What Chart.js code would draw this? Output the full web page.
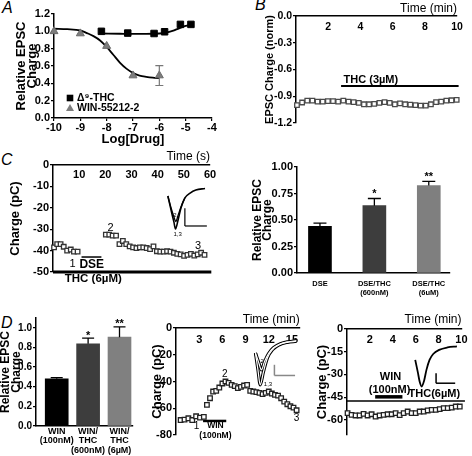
<!DOCTYPE html>
<html><head><meta charset="utf-8">
<script src="https://cdn.jsdelivr.net/npm/chart.js@4.4.1/dist/chart.umd.min.js"></script>
<style>
html,body{margin:0;padding:0;background:#fff;}
body{width:472px;height:456px;position:relative;overflow:hidden;font-family:'Liberation Sans',Arial,sans-serif;}
canvas{position:absolute;}
.lbl{position:absolute;font-style:italic;font-size:16px;line-height:16px;color:#000;}
</style></head><body>
<div class="lbl" style="left:2px;top:0px">A</div>
<div class="lbl" style="left:255px;top:-3px">B</div>
<div class="lbl" style="left:1px;top:152px">C</div>
<div class="lbl" style="left:1px;top:315px">D</div>
<script>
// ---------------- DATA ----------------
// Panel A: dose-response
const logDoseTHC = [-8.2,-7.2,-6.2,-5.8,-5.2,-4.8];
const relChargeTHC = [1.00,0.98,0.975,0.995,1.08,1.08];
const logDoseWIN = [-10,-9,-8,-7,-6];
const relChargeWIN = [1.00,0.975,0.83,0.49,0.49];
const errWIN = [0,0,0,0,0.115];
const fitTHCx = [-8.2,-7.5,-7,-6.5,-6,-5.75,-5.5,-5.25,-5,-4.8];
const fitTHCy = [0.975,0.972,0.97,0.97,0.975,0.985,1.005,1.035,1.062,1.078];
const fitWINx = [-10,-9.5,-9,-8.75,-8.5,-8.25,-8,-7.75,-7.5,-7.25,-7,-6.75,-6.5,-6.25,-6];
const fitWINy = [1.03,1.025,1.01,0.98,0.945,0.895,0.82,0.73,0.64,0.57,0.52,0.49,0.475,0.465,0.46];
const legendLabels = ['\u0394\u2079-THC','WIN-55212-2'];
const ticksAx = [-10,-9,-8,-7,-6,-5,-4];
const ticksAy = [0,0.2,0.4,0.6,0.8,1.0,1.2];

// Panel B: time course, THC 3uM
const timeB = [0.06,0.38,0.7,1.02,1.34,1.66,1.98,2.3,2.62,2.94,3.26,3.58,3.9,4.22,4.54,4.86,5.18,5.5,5.82,6.14,6.46,6.78,7.1,7.42,7.74,8.06,8.38,8.7,9.02,9.34,9.66,9.98];
const chargeB = [-1.00,-0.97,-0.95,-0.95,-0.96,-0.96,-0.955,-0.955,-0.96,-0.95,-0.96,-0.965,-0.975,-0.99,-0.99,-0.985,-0.975,-0.965,-0.975,-0.99,-0.98,-0.99,-0.995,-1.0,-1.005,-1.005,-0.99,-0.965,-0.96,-0.95,-0.945,-0.94];
const ticksBx = [2,4,6,8,10];
const ticksBy = [0,-0.3,-0.6,-0.9,-1.2];
const thcSpanB = [2.8,10.1];

// Panel C left: DSE time course
const timeC = [0.4,1.6,2.9,4.1,5.4,6.8,8.0,9.4,20.2,21.5,22.8,24.1,25.4,26.7,28.0,29.3,30.6,31.9,33.2,34.5,35.8,37.1,38.4,39.7,41.0,42.3,43.6,44.9,46.2,47.5,48.8,50.1,51.4,52.7,54.0,55.3,56.6,57.9];
const chargeC = [-38.5,-37,-37,-38.2,-40,-39.5,-40.5,-40.5,-32.5,-32.5,-33,-33,-37,-35.5,-37,-38,-38.5,-38.8,-38.5,-38.5,-38.8,-39.3,-38,-40.3,-40.5,-40.5,-40.3,-40.5,-41,-41.5,-41.8,-42.5,-42,-41.5,-42.3,-41.8,-41,-42];
const ticksCx = [10,20,30,40,50,60];
const ticksCy = [0,-10,-20,-30,-40,-50];
const insetCdeepT = [43.9,45.1,46.2,46.8,47.8,48.9,50.4,52.4,54.6,58.1];
const insetCdeepQ = [-14.5,-21,-26.6,-29.9,-25.7,-20.1,-15.4,-13.1,-11.7,-11];
const insetCshalT = [43.9,45.1,46.2,46.9,47.9,48.9,50.4];
const insetCshalQ = [-14.5,-20,-24.2,-26.4,-23.2,-19.6,-15.4];

// Panel C right: DSE bars
const catsCR = [['DSE'],['DSE/THC','(600nM)'],['DSE/THC','(6uM)']];
const relChargeCR = [0.44,0.635,0.825];
const errCR = [0.03,0.068,0.04];
const starsCR = ['','*','**'];
const ticksCRy = [0,0.25,0.5,0.75,1.0];

// Panel D left: WIN bars
const catsDL = [['WIN','(100nM)'],['WIN/','THC','(600nM)'],['WIN/','THC','(6\u00b5M)']];
const relChargeDL = [0.48,0.838,0.905];
const errDL = [0.012,0.058,0.105];
const starsDL = ['','*','**'];
const ticksDLy = [0,0.2,0.4,0.6,0.8,1.0];

// Panel D middle: WIN time course
const timeDM = [0.6,1.1,1.6,2.1,2.6,3.1,3.6,4.0,4.4,4.8,5.2,5.6,6.0,6.4,6.8,7.2,7.6,8.0,8.4,8.8,9.2,9.6,10.0,10.4,10.8,11.2,11.6,12.0,12.4,12.8,13.2,13.6,14.0,14.4,14.8,15.2,15.6];
const chargeDM = [-68.8,-68.5,-67.5,-68.8,-66,-67,-66.5,-57.5,-52.5,-47.5,-47,-44.5,-41.5,-40,-41,-42.5,-43.5,-45,-44,-43,-42.5,-47,-47.5,-48,-48.5,-49.5,-48.5,-47.5,-49,-50,-50.5,-52.5,-55,-57,-58.5,-59.5,-61.5];
const ticksDMx = [3,6,9,12,15];
const ticksDMy = [0,-20,-40,-60,-80];
const insetDMdeepT = [10.28,10.6,10.89,11.31,11.83,12.47,13.37,14.4,15.55];
const insetDMdeepQ = [-18.75,-31.3,-42.5,-32.8,-22.3,-16.3,-12.5,-10.7,-9.9];
const insetDMshalT = [10.28,10.67,11.05,11.44,11.95,12.6,13.5,14.5,15.55];
const insetDMshalQ = [-18.75,-25.3,-31.3,-25.3,-19.3,-14.8,-11.8,-10.3,-9.5];

// Panel D right: WIN then THC
const timeDR = [0.05,0.4,0.75,1.1,1.45,1.8,2.15,2.5,2.85,3.2,3.55,3.9,4.25,4.6,4.95,5.3,5.65,6.0,6.35,6.7,7.05,7.4,7.75,8.1,8.45,8.8,9.15,9.5,9.85];
const chargeDR = [-55.6,-56.7,-57.1,-57.1,-56,-57.1,-56.3,-57.8,-57.1,-56.7,-56.3,-56.3,-55.6,-56.9,-55.6,-54.5,-55.6,-55.6,-54.5,-54.5,-53.8,-53.4,-53.4,-52.9,-52.3,-52.3,-51.9,-51.2,-51.2];
const ticksDRx = [2,4,6,8,10];
const ticksDRy = [0,-15,-30,-45,-60];
const insetDRt = [5.96,6.18,6.35,6.52,6.73,6.94,7.21,7.53,8.05,8.78,9.6];
const insetDRq = [-20.4,-28.3,-34.9,-38,-34.3,-27,-20.4,-16.5,-13.8,-12.2,-11.5];

// ---------------- HELPERS ----------------
const FONT = "'Liberation Sans Narrow','Liberation Sans',Arial,sans-serif";
const f = (size, weight) => `${weight||'bold'} ${size}px ${FONT}`;
const pts = (xs, ys) => xs.map((x,i)=>({x, y:ys[i]}));
Chart.defaults.font.family = FONT;

function yAx(o){
  return {
    type:'linear', position:'left', min:o.min, max:o.max,
    afterBuildTicks: s => { s.ticks = o.ticks.map(v=>({value:v})); },
    grid:{display:true, drawOnChartArea:false, drawTicks:true, tickLength:(o.tl ?? 3), color:'#000', lineWidth:1.2},
    border:{display:true, color:'#000', width:1.5},
    ticks:{color:'#000', autoSkip:false, padding:(o.pad ?? 1), font:{family:FONT, size:o.fs, weight:'bold'}, callback:o.fmt || (v=>String(v))},
    title:{display:true, text:o.title, color:'#000', font:{family:FONT, size:o.tfs, weight:'bold', lineHeight:(o.tlh ?? 1.2)}, padding:{top:o.tpad, bottom:0}}
  };
}
function xAx(o){
  const tl = o.tl || 0;
  return {
    type:'linear', position:o.pos, min:o.min, max:o.max, offset:false,
    afterBuildTicks: s => { s.ticks = o.ticks.map(v=>({value:v})); },
    grid:{display:tl>0, offset:false, drawOnChartArea:false, drawTicks:tl>0, tickLength:tl, color:'#000', lineWidth:1.2},
    border:{display:true, color:'#000', width:1.5},
    ticks:{color:'#000', autoSkip:false, maxRotation:0, minRotation:0, mirror:!!o.mirror, padding:o.pad, font:{family:FONT, size:o.fs, weight:'bold', lineHeight:(o.lh ?? 1.2)}, callback:o.fmt || (v=>String(v))},
    title:{display:!!o.title, text:o.title||'', align:o.talign||'center', color:'#000', font:{family:FONT, size:o.tfs||12, weight:o.tw||'bold'}, padding:{top:o.tpt||0, bottom:o.tpb||0}}
  };
}
function annot(cfg){
  return {
    id:'annot',
    afterDatasetsDraw(chart){
      const ctx = chart.ctx, xs = chart.scales.x, ys = chart.scales.y;
      const X = v => xs.getPixelForValue(v), Y = v => ys.getPixelForValue(v);
      ctx.save();
      (cfg.segments||[]).forEach(s=>{
        ctx.beginPath(); ctx.strokeStyle = s.color||'#000'; ctx.lineWidth = s.w||1.5; ctx.lineCap='butt';
        ctx.moveTo(X(s.x[0]),Y(s.y[0])); ctx.lineTo(X(s.x[1]),Y(s.y[1])); ctx.stroke();
      });
      (cfg.texts||[]).forEach(t=>{
        ctx.font = t.font || f(11); ctx.fillStyle = t.color||'#000';
        ctx.textAlign = t.align||'center'; ctx.textBaseline='middle';
        ctx.fillText(t.text, X(t.x), Y(t.y));
      });
      if (cfg.after) cfg.after(chart, ctx, X, Y);
      ctx.restore();
    }
  };
}
function build(box, area, xPos, type, datasets, xs, ys, plugins){
  const c = document.createElement('canvas');
  c.width = box.w; c.height = box.h;
  c.style.left = box.x+'px'; c.style.top = box.y+'px';
  c.style.width = box.w+'px'; c.style.height = box.h+'px';
  document.body.appendChild(c);
  const top = xPos === 'top';
  const padding = {left:0, top: top?0:area.t-box.y, right: box.x+box.w-area.r, bottom: top? box.y+box.h-area.b : 0};
  const yW = area.l - box.x, xH = top ? area.t-box.y : box.y+box.h-area.b;
  xs.afterFit = s => { s.height = xH; };
  ys.afterFit = s => { s.width = yW; };
  return new Chart(c, {
    type, data:{datasets},
    options:{responsive:false, animation:false, events:[], devicePixelRatio:1,
      layout:{padding},
      plugins:{legend:{display:false}, tooltip:{enabled:false}},
      scales:{x:xs, y:ys}},
    plugins
  });
}
function barsExtras(vals, errs, stars, cap, starDy){
  return (chart, ctx, X, Y) => {
    ctx.strokeStyle = '#000'; ctx.lineWidth = 1.3;
    vals.forEach((v,i)=>{
      const x = X(i+1), y0 = Y(v), y1 = Y(v+errs[i]);
      ctx.beginPath(); ctx.moveTo(x,y0); ctx.lineTo(x,y1);
      ctx.moveTo(x-cap/2,y1); ctx.lineTo(x+cap/2,y1); ctx.stroke();
      if (stars[i]) { ctx.font = f(11); ctx.fillStyle='#000'; ctx.textAlign='center'; ctx.textBaseline='alphabetic'; ctx.fillText(stars[i], x, y1+starDy); }
    });
  };
}
const sq = (color) => ({pointStyle:'rect', pointRadius:3.2, backgroundColor:'#fff', borderColor:color, borderWidth:1.3, showLine:false, clip:false, order:1});
const trace = (xs, ys, color, w, order) => ({data:pts(xs,ys), showLine:true, pointRadius:0, borderColor:color, borderWidth:w, cubicInterpolationMode:'monotone', order:order});

// ---------------- PANEL A ----------------
build({x:0,y:0,w:225,h:150},{l:54,t:14,r:212,b:118},'bottom','scatter',[
  {data:pts(logDoseTHC,relChargeTHC), pointStyle:'rect', pointRadius:4.6, backgroundColor:'#000', borderColor:'#000', borderWidth:1, showLine:false, clip:false, order:1},
  {data:pts(logDoseWIN,relChargeWIN), pointStyle:'triangle', pointRadius:4.6, backgroundColor:'#7d7d7d', borderColor:'#6a6a6a', borderWidth:1, showLine:false, clip:false, order:1},
  trace(fitTHCx, fitTHCy, '#000', 1.8, 2),
  trace(fitWINx, fitWINy, '#000', 1.8, 2)
],
 xAx({pos:'bottom', min:-10, max:-4, ticks:ticksAx, fs:11, tl:3, pad:0.5, title:'Log[Drug]', tfs:13, tpb:3.2}),
 yAx({min:0, max:1.2, ticks:ticksAy, fs:11, fmt:v=>v.toFixed(1), title:['Relative EPSC','Charge'], tfs:13, tlh:0.8, tpad:16.5}),
 [annot({after:(chart,ctx,X,Y)=>{
    ctx.strokeStyle='#777'; ctx.lineWidth=1.2;
    logDoseWIN.forEach((x,i)=>{ if(errWIN[i]>0){ const px=X(x), a=Y(relChargeWIN[i]+errWIN[i]), b=Y(relChargeWIN[i]-errWIN[i]);
      ctx.beginPath(); ctx.moveTo(px,a); ctx.lineTo(px,b); ctx.moveTo(px-4,a); ctx.lineTo(px+4,a); ctx.moveTo(px-4,b); ctx.lineTo(px+4,b); ctx.stroke(); }});
    const L = chart.chartArea.left + 16, T = chart.chartArea.top + 84;
    ctx.fillStyle='#000'; ctx.fillRect(L-3.3,T-3.3,6.6,6.6);
    ctx.fillStyle='#7d7d7d'; ctx.beginPath(); ctx.moveTo(L,T+10-4); ctx.lineTo(L+4,T+10+3); ctx.lineTo(L-4,T+10+3); ctx.closePath(); ctx.fill();
    ctx.fillStyle='#000'; ctx.font=f(10.5); ctx.textAlign='left'; ctx.textBaseline='middle';
    ctx.fillText(legendLabels[0], L+7, T); ctx.fillText(legendLabels[1], L+7, T+10.5);
 }})]);

// ---------------- PANEL B ----------------
build({x:240,y:0,w:232,h:140},{l:296,t:16,r:457,b:123},'top','scatter',[
  Object.assign({data:pts(timeB,chargeB)}, sq('#4a4a4a'))
],
 xAx({pos:'top', min:0, max:10, ticks:ticksBx, fs:10.5, mirror:true, pad:4.7, title:'Time (min)', talign:'end', tfs:12, tw:'normal', tpt:1.8}),
 yAx({min:-1.2, max:0, ticks:ticksBy, fs:10.5, fmt:v=>v.toFixed(1), title:'EPSC Charge (norm)', tfs:11, tpad:23.4}),
 [annot({segments:[{x:thcSpanB, y:[-0.785,-0.785], w:2}], texts:[{x:4.65, y:-0.717, text:'THC (3\u00b5M)', font:f(11)}]})]);

// ---------------- PANEL C left ----------------
build({x:0,y:143,w:225,h:150},{l:53,t:165,r:210,b:272},'top','scatter',[
  Object.assign({data:pts(timeC,chargeC)}, sq('#333')),
  trace(insetCdeepT, insetCdeepQ, '#000', 1.6, 2),
  trace(insetCshalT, insetCshalQ, '#000', 1.3, 2)
],
 xAx({pos:'top', min:0, max:60, ticks:ticksCx, fs:11, mirror:true, pad:3.4, title:'Time (s)', talign:'end', tfs:12, tw:'normal', tpt:6.8}),
 yAx({min:-50, max:0, ticks:ticksCy, fs:11, title:'Charge (pC)', tfs:13, tpad:7.2}),
 [annot({segments:[
    {x:[0,60.5], y:[-50,-50], w:3},
    {x:[10.9,18.5], y:[-43,-43], w:1.5},
    {x:[50.4,50.4], y:[-20.2,-28.5], w:1.2},
    {x:[50.4,58.8], y:[-28.5,-28.5], w:1.2}],
  texts:[
    {x:7.5,y:-46.2,text:'1',font:f(11,'normal')},
    {x:14.8,y:-46.7,text:'DSE',font:f(12)},
    {x:22,y:-29.6,text:'2',font:f(11,'normal')},
    {x:55.4,y:-37.8,text:'3',font:f(11,'normal')},
    {x:15.4,y:-53.4,text:'THC (6\u00b5M)',font:f(11.5)},
    {x:46.6,y:-23.4,text:'2',font:f(6,'normal')},
    {x:47.6,y:-32.4,text:'1,3',font:f(6,'normal')}]})]);

// ---------------- PANEL C right ----------------
build({x:240,y:150,w:232,h:150},{l:297,t:167,r:450,b:273},'bottom','bar',[
  {data:pts([1,2,3],relChargeCR), backgroundColor:['#000','#3d3d3d','#7f7f7f'], borderWidth:0, barThickness:23}
],
 xAx({pos:'bottom', min:0.578, max:3.39, ticks:[1,2,3], fs:7.5, lh:1.15, pad:6.7, fmt:v=>catsCR[v-1]}),
 yAx({min:0, max:1.0, ticks:ticksCRy, fs:11, fmt:v=>v.toFixed(2), title:['Relative EPSC','Charge'], tfs:12, tlh:0.8, tpad:13.2}),
 [annot({after:barsExtras(relChargeCR, errCR, starsCR, 13, -1)})]);

// ---------------- PANEL D left ----------------
build({x:0,y:305,w:140,h:151},{l:36,t:318,r:133,b:426},'bottom','bar',[
  {data:pts([1,2,3],relChargeDL), backgroundColor:['#000','#3d3d3d','#808080'], borderWidth:0, barThickness:23}
],
 xAx({pos:'bottom', min:0.34, max:3.43, ticks:[1,2,3], fs:9, lh:1.05, pad:0.5, fmt:v=>catsDL[v-1]}),
 yAx({min:0, max:1.1, ticks:ticksDLy, fs:10, fmt:v=>v.toFixed(1), title:['Relative EPSC','Charge'], tfs:12, tlh:0.87, tpad:0.8}),
 [annot({after:barsExtras(relChargeDL, errDL, starsDL, 12, 0.5)})]);

// ---------------- PANEL D middle ----------------
build({x:140,y:305,w:165,h:151},{l:176,t:328,r:300,b:435},'top','scatter',[
  Object.assign({data:pts(timeDM,chargeDM)}, sq('#222')),
  trace(insetDMdeepT, insetDMdeepQ, '#000', 3.2, 4),
  trace(insetDMshalT, insetDMshalQ, '#000', 3.2, 4),
  trace(insetDMdeepT, insetDMdeepQ, '#fff', 1.2, 3),
  trace(insetDMshalT, insetDMshalQ, '#fff', 1.2, 3)
],
 xAx({pos:'top', min:0, max:16, ticks:ticksDMx, fs:11, mirror:true, pad:5.4, title:'Time (min)', talign:'end', tfs:12, tw:'normal', tpt:7.8}),
 yAx({min:-80, max:0, ticks:ticksDMy, fs:11, title:'Charge (pC)', tfs:13, tpad:9.2}),
 [annot({segments:[
    {x:[3.5,6.5], y:[-69.5,-69.5], w:2.5},
    {x:[12.73,12.73], y:[-27.5,-35.5], w:1.5, color:'#888'},
    {x:[12.73,15.4], y:[-35.5,-35.5], w:1.5, color:'#888'}],
  texts:[
    {x:2.65,y:-73.5,text:'1',font:f(10,'normal')},
    {x:5.1,y:-73.3,text:'WIN',font:f(8.5)},
    {x:5.1,y:-80.5,text:'(100nM)',font:f(8.5)},
    {x:6.3,y:-34.4,text:'2',font:f(10,'normal')},
    {x:15.6,y:-67.5,text:'3',font:f(10,'normal')},
    {x:11.14,y:-25,text:'2',font:f(6,'normal')},
    {x:11.9,y:-42,text:'1,3',font:f(6,'normal')}]})]);

// ---------------- PANEL D right ----------------
build({x:310,y:305,w:162,h:151},{l:347,t:329,r:466,b:435},'top','scatter',[
  Object.assign({data:pts(timeDR,chargeDR)}, sq('#222')),
  trace(insetDRt, insetDRq, '#000', 1.8, 2)
],
 xAx({pos:'top', min:0, max:10, ticks:ticksDRx, fs:11, mirror:true, pad:4.4, title:'Time (min)', talign:'end', tfs:12, tw:'normal', tpt:7.8}),
 yAx({min:-70, max:0, ticks:ticksDRy, fs:11, title:'Charge (pC)', tfs:13, tpad:4.9}),
 [annot({segments:[
    {x:[0,10.3], y:[-47.5,-47.5], w:1.5},
    {x:[2.46,4.84], y:[-44.8,-44.8], w:3.5},
    {x:[7.78,7.78], y:[-29.2,-35.8], w:1.5},
    {x:[7.78,9.45], y:[-35.8,-35.8], w:1.5}],
  texts:[
    {x:3.8,y:-31.8,text:'WIN',font:f(11)},
    {x:3.72,y:-40.2,text:'(100nM)',font:f(11)},
    {x:7.63,y:-42.8,text:'THC(6\u00b5M)',font:f(11)}]})]);
</script>
</body></html>
